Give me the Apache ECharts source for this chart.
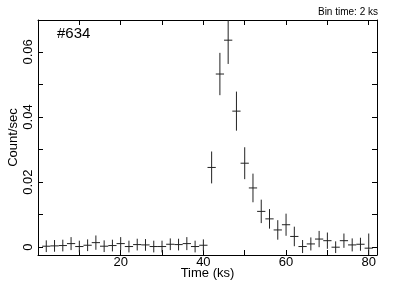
<!DOCTYPE html>
<html>
<head>
<meta charset="utf-8">
<script src="https://cdn.jsdelivr.net/npm/echarts@6/dist/echarts.min.js"></script>
<style>
html,body{margin:0;padding:0;background:#fff;}
#chart{width:407px;height:299px;}
</style>
</head>
<body>
<div id="chart"></div>
<script>
// Bin centres (ks)
var times = [2,4,6,8,10,12,14,16,18,20,22,24,26,28,30,32,34,36,38,40,
             42,44,46,48,50,52,54,56,58,60,62,64,66,68,70,72,74,76,78,80];
// Count rate (counts/sec)
var rates = [0.0003,0.0004,0.0005,0.0011,0.0002,0.0006,0.0014,0.0003,0.0005,0.0011,
             0.0002,0.0008,0.0007,0.0002,0.0002,0.0009,0.0008,0.0011,0.0002,0.0006,
             0.0245,0.0532,0.0636,0.0418,0.0258,0.0182,0.0110,0.0087,0.0053,0.0069,
             0.0033,0.0002,0.0010,0.0025,0.0020,0.0000,0.0020,0.0007,0.0009,-0.0003];
// 1-sigma errors (counts/sec)
var errors = [0.0018,0.0018,0.0018,0.0020,0.0018,0.0018,0.0022,0.0018,0.0018,0.0020,
              0.0018,0.0018,0.0018,0.0018,0.0018,0.0018,0.0018,0.0020,0.0018,0.0018,
              0.0049,0.0065,0.0073,0.0060,0.0049,0.0044,0.0036,0.0030,0.0030,0.0034,
              0.0030,0.0020,0.0020,0.0025,0.0025,0.0018,0.0022,0.0020,0.0020,0.0045];
var binHalfWidth = 1; // ks (2 ks bins)
var xLabelValues = [20,40,60,80];
var xTickValues = [10,20,30,40,50,60,70,80];
var yLabelValues = [0,0.02,0.04,0.06];
var yTickValues = [0,0.01,0.02,0.03,0.04,0.05,0.06];
var xName = 'Time (ks)';
var yName = 'Count/sec';
var sourceLabel = '#634';
var binLabel = 'Bin time: 2 ks';

var data = times.map(function(t,i){ return [t, rates[i], errors[i]]; });

var FONT = 'Liberation Sans, Arial, Helvetica, sans-serif';
var axisLineStyle = {color:'#000', width:1};
function xAxisCfg(pos, showLabels){
  return {
    type:'value', position:pos, min:0, max:82,
    axisLine:{show:true, onZero:false, lineStyle:axisLineStyle},
    axisTick:{show:true, inside:true, length:5, customValues:xTickValues, lineStyle:axisLineStyle},
    axisLabel:{show:showLabels, customValues:xLabelValues, color:'#000', fontSize:13, fontFamily:FONT, margin:1},
    splitLine:{show:false},
    name: showLabels ? xName : '', nameLocation:'middle', nameGap:12, nameMoveOverlap:false,
    nameTextStyle:{color:'#000', fontSize:13, fontFamily:FONT}
  };
}
function yAxisCfg(pos, showLabels){
  return {
    type:'value', position:pos, min:-0.0024, max:0.0698,
    axisLine:{show:true, onZero:false, lineStyle:axisLineStyle},
    axisTick:{show:true, inside:true, length:5, customValues:yTickValues, lineStyle:axisLineStyle},
    axisLabel:{show:showLabels, customValues:yLabelValues, rotate:90, color:'#000', fontSize:13, fontFamily:FONT, margin:3,
      formatter:function(v){ return v===0 ? '0' : String(+v.toFixed(2)); }},
    splitLine:{show:false},
    name: showLabels ? yName : '', nameLocation:'middle', nameGap:18, nameMoveOverlap:false,
    nameTextStyle:{color:'#000', fontSize:13, fontFamily:FONT}
  };
}

var chart = echarts.init(document.getElementById('chart'), null, {renderer:'canvas'});
chart.setOption({
  animation:false,
  backgroundColor:'#fff',
  grid:{left:38, right:30, top:20, bottom:44, containLabel:false, outerBoundsMode:'none'},
  xAxis:[xAxisCfg('bottom', true), xAxisCfg('top', false)],
  yAxis:[yAxisCfg('left', true), yAxisCfg('right', false)],
  graphic:[
    {type:'text', left:57, top:26, style:{text:sourceLabel, fill:'#000', font:'15px '+FONT}},
    {type:'text', right:29, top:7, style:{text:binLabel, fill:'#000', font:'10px '+FONT}}
  ],
  series:[{
    type:'custom',
    clip:true,
    xAxisIndex:0, yAxisIndex:0,
    data:data,
    renderItem:function(params, api){
      var t = api.value(0), r = api.value(1), e = api.value(2);
      var pL = api.coord([t - binHalfWidth, r]);
      var pR = api.coord([t + binHalfWidth, r]);
      var pT = api.coord([t, r + e]);
      var pB = api.coord([t, r - e]);
      var st = {stroke:'#222', lineWidth:1};
      return {type:'group', children:[
        {type:'line', shape:{x1:pL[0], y1:pL[1], x2:pR[0], y2:pR[1]}, style:st},
        {type:'line', shape:{x1:pT[0], y1:pT[1], x2:pB[0], y2:pB[1]}, style:st}
      ]};
    }
  }]
});
</script>
</body>
</html>
